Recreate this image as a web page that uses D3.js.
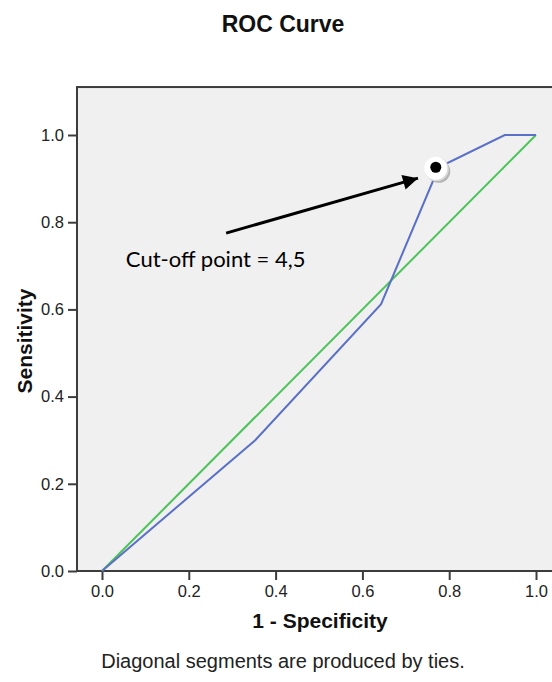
<!DOCTYPE html>
<html>
<head>
<meta charset="utf-8">
<script src="https://cdn.jsdelivr.net/npm/d3@7"></script>
<style>
  body { margin: 0; background: #fff; }
  text { font-family: "Liberation Sans", Arial, sans-serif; }
</style>
</head>
<body>
<div id="chart"></div>
<script>
// ROC curve points (1 - specificity, sensitivity)
var rocX = [0, 0.353, 0.643, 0.776, 0.928, 1];
var rocY = [0, 0.30, 0.612, 0.926, 1, 1];
// reference diagonal
var diagX = [0, 1];
var diagY = [0, 1];
var ticks = [0, 0.2, 0.4, 0.6, 0.8, 1.0];
var cutoff = { x: 0.776, y: 0.926, label: "Cut-off point = 4,5" };

var W = 552, H = 682;
var svg = d3.select('#chart').append('svg').attr("width", W).attr("height", H);

var x = d3.scaleLinear().domain([0, 1]).range([102, 536]);
var y = d3.scaleLinear().domain([0, 1]).range([571, 135]);

// plot area
var px0 = x(-0.0576), px1 = x(1.0576), py0 = y(1.11), py1 = y(0);
svg.append("rect")
  .attr("x", px0).attr("y", py0)
  .attr("width", px1 - px0).attr("height", py1 - py0)
  .attr("fill", "#f0f0f0")
  .attr("stroke", "#3c3c3c").attr("stroke-width", 2);

// axes
var xAxis = svg.append("g").attr("transform", "translate(0," + py1 + ")")
  .call(d3.axisBottom(x).tickValues(ticks).tickFormat(d3.format(".1f")).tickSize(9).tickPadding(5));
var yAxis = svg.append("g").attr("transform", "translate(" + px0 + ",0)")
  .call(d3.axisLeft(y).tickValues(ticks).tickFormat(d3.format(".1f")).tickSize(9).tickPadding(4));
[xAxis, yAxis].forEach(function(g) {
  g.select(".domain").remove();
  g.selectAll(".tick line").attr("stroke", "#3c3c3c").attr("stroke-width", 2);
  g.selectAll(".tick text")
    .attr("fill", "#222")
    .attr("style", "font-size:16.5px;font-family:'Liberation Sans',Arial,sans-serif");
});
svg.append("line")
  .attr("x1", px0).attr("x2", px1).attr("y1", py1).attr("y2", py1)
  .attr("stroke", "#3c3c3c").attr("stroke-width", 2);

var line = d3.line().x(function(d) { return x(d[0]); }).y(function(d) { return y(d[1]); });

svg.append("path")
  .datum(d3.zip(diagX, diagY))
  .attr("d", line)
  .attr("fill", "none").attr("stroke", "#4cc35a").attr("stroke-width", 2);

svg.append("path")
  .datum(d3.zip(rocX, rocY))
  .attr("d", line)
  .attr("fill", "none").attr("stroke", "#5a70c6").attr("stroke-width", 2);

// cut-off marker
var cx = x(cutoff.x) - 3, cy = y(cutoff.y);
svg.append("circle").attr("cx", cx + 3).attr("cy", cy + 4).attr("r", 11.5).attr("fill", "#b4b4b4");
svg.append("circle").attr("cx", cx + 1).attr("cy", cy + 2).attr("r", 12).attr("fill", "#d8d8d8");
svg.append("circle").attr("cx", cx).attr("cy", cy + 1).attr("r", 11.5).attr("fill", "#fff");
svg.append("circle").attr("cx", cx).attr("cy", cy).attr("r", 5.5).attr("fill", "#000");

// arrow
svg.append("defs").append("marker")
  .attr("id", "arrowhead")
  .attr("viewBox", "0 0 10 10")
  .attr("refX", 10).attr("refY", 5)
  .attr("markerWidth", 7).attr("markerHeight", 5)
  .attr("markerUnits", "strokeWidth")
  .attr("orient", "auto")
  .append("path").attr("d", "M0,0 L10,5 L0,10 Z").attr("fill", "#000");
svg.append("line")
  .attr("x1", x(0.286)).attr("y1", y(0.775))
  .attr("x2", x(0.728)).attr("y2", y(0.901))
  .attr("stroke", "#000").attr("stroke-width", 3)
  .attr("marker-end", "url(#arrowhead)");

svg.append("text")
  .attr("x", x(0.055)).attr("y", y(0.697))
  .attr("style", "font-size:22px;font-family:Lato,Carlito,sans-serif;fill:#000")
  .text(cutoff.label);

// titles
svg.append("text")
  .attr("x", 283).attr("y", 32)
  .attr("text-anchor", "middle")
  .attr("style", "font-size:23px;font-weight:bold;fill:#111")
  .text("ROC Curve");

svg.append("text")
  .attr("x", 320).attr("y", 628)
  .attr("text-anchor", "middle")
  .attr("style", "font-size:21px;font-weight:bold;fill:#111")
  .text("1 - Specificity");

svg.append("text")
  .attr("transform", "translate(32,341) rotate(-90)")
  .attr("text-anchor", "middle")
  .attr("style", "font-size:21px;font-weight:bold;fill:#111")
  .text("Sensitivity");

svg.append("text")
  .attr("x", 283).attr("y", 668)
  .attr("text-anchor", "middle")
  .attr("style", "font-size:20px;fill:#222")
  .text("Diagonal segments are produced by ties.");
</script>
</body>
</html>
